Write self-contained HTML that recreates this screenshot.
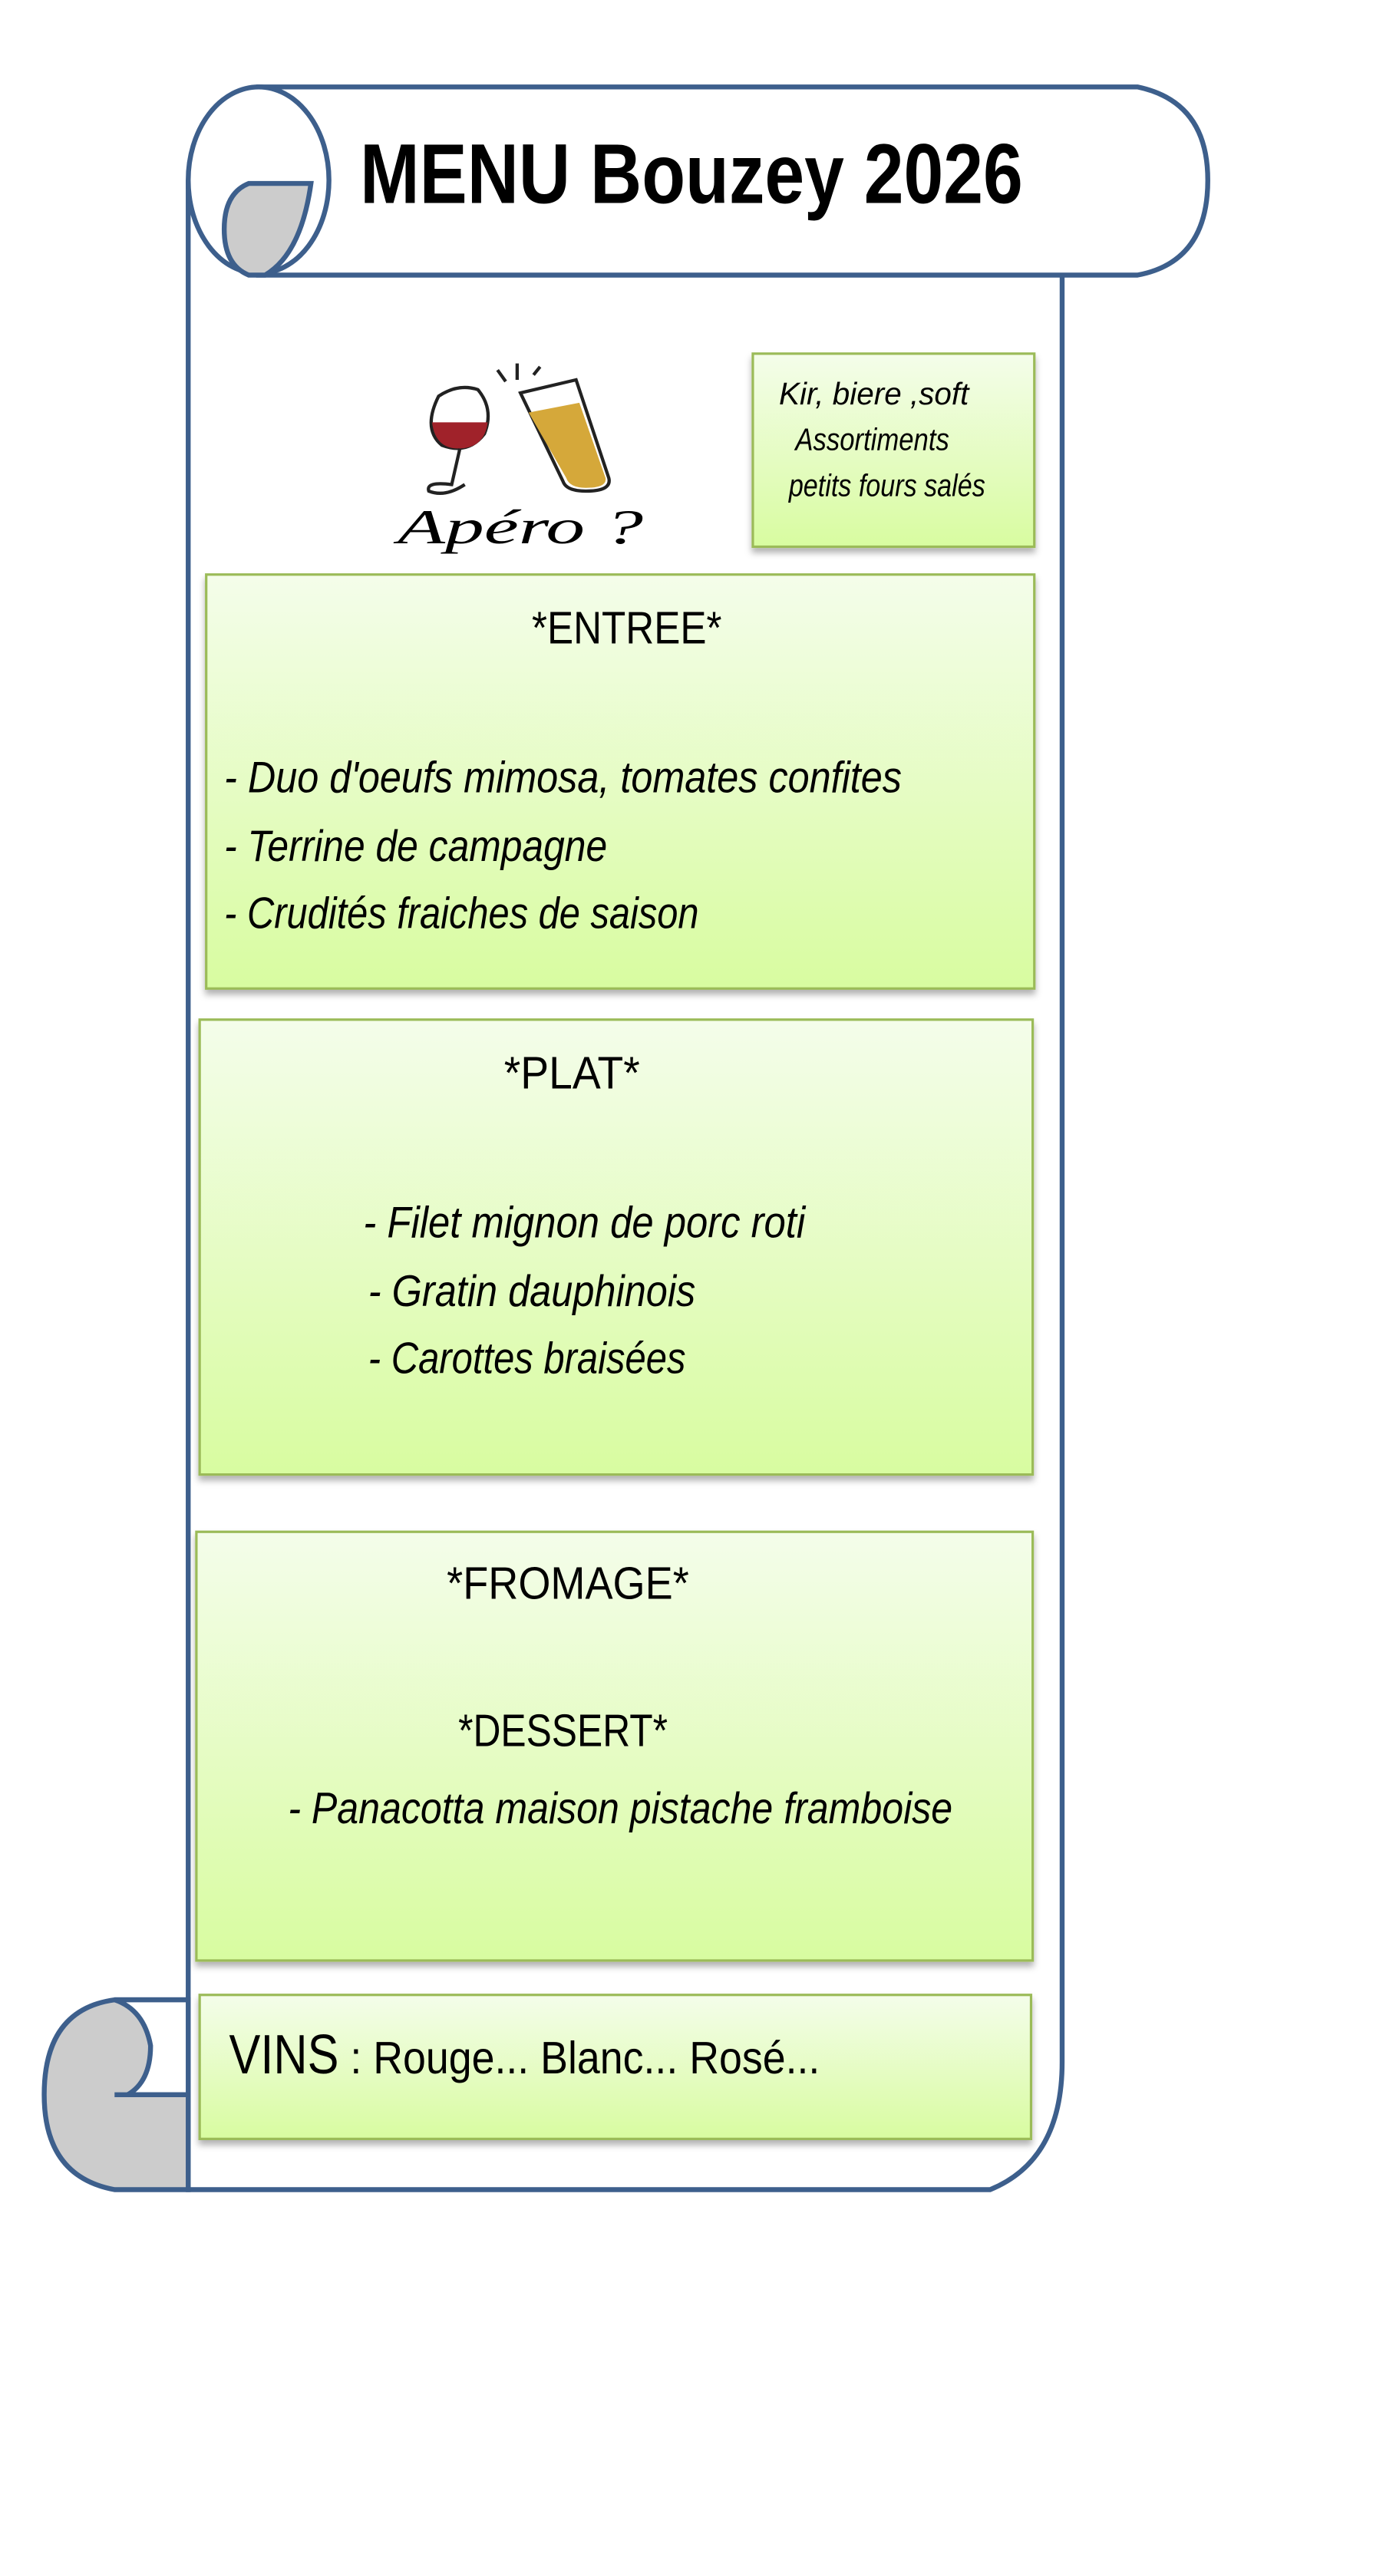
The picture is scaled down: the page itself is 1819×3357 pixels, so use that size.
<!DOCTYPE html>
<html><head><meta charset="utf-8"><style>
html,body{margin:0;padding:0;background:#fff;}
svg{display:block;}
</style></head><body>
<svg width="1819" height="3357" viewBox="0 0 853 1574" xmlns="http://www.w3.org/2000/svg">
<defs>
<linearGradient id="g" x1="0" y1="0" x2="0" y2="1">
<stop offset="0" stop-color="#f4fdea"/><stop offset="1" stop-color="#d8fca0"/>
</linearGradient>
<filter id="sh" x="-5%" y="-5%" width="110%" height="120%">
<feDropShadow dx="0" dy="3" stdDeviation="2" flood-color="#000" flood-opacity="0.3"/>
</filter>
</defs>
<g fill="none" stroke="#3d5f8c" stroke-width="3">
<path d="M115 110 L115 1338 L605 1338 Q649 1320 649 1260 L649 168" fill="#fff"/>
<path d="M158 53 L695 53 Q738 62 738 110 Q738 160 695 168 L158 168 Z" fill="#fff"/>
<ellipse cx="158" cy="110" rx="43" ry="57" fill="#fff"/>
<path d="M190 112 L152 112 Q137 118 137 140 Q137 162 152 168 L162 168 Q184 155 190 112 Z" fill="#ccc"/>
<path d="M70 1222 L115 1222 L115 1338 L70 1338 Q27 1330 27 1280 Q27 1228 70 1222 Z" fill="#ccc"/>
<path d="M70 1222 Q88 1228 92 1250 Q92 1272 78 1280 L115 1280 L115 1222 Z" fill="#fff"/>
<path d="M70 1280 L115 1280" />
</g>
<text x="220" y="124" font-family="Liberation Sans" font-weight="bold" font-size="52" textLength="405" lengthAdjust="spacingAndGlyphs">MENU Bouzey 2026</text>
<g stroke="#222" stroke-width="2" fill="none">
<path d="M268 242 Q258 262 270 272 Q286 278 296 265 Q302 250 292 238 Q280 234 268 242 Z" fill="#fff"/>
<path d="M264 258 Q266 274 280 274 Q296 274 298 258 Z" fill="#a0222a" stroke="none"/>
<path d="M281 274 L276 296 Q260 294 262 300 Q272 304 284 296"/>
<path d="M318 240 L352 232 L372 292 Q374 300 358 300 Q346 300 344 294 Z" fill="#fff"/>
<path d="M323 252 L354 246 L370 292 Q371 298 358 298 Q348 298 346 292 Z" fill="#d5a83a" stroke="none"/>
<path d="M316 222 L316 232 M304 226 L309 233 M326 229 L330 224"/>
</g>
<text x="243" y="332" font-family="Liberation Serif" font-style="italic" font-size="30" textLength="150" lengthAdjust="spacingAndGlyphs">Apéro ?</text>
<g stroke="#9bbb59" stroke-width="1.5" fill="url(#g)" filter="url(#sh)">
<rect x="460" y="216" width="172" height="118"/>
<rect x="126" y="351" width="506" height="253"/>
<rect x="122" y="623" width="509" height="278"/>
<rect x="120" y="936" width="511" height="262"/>
<rect x="122" y="1219" width="508" height="88"/>
</g>
<g font-family="Liberation Sans" font-style="italic" font-size="19" fill="#000">
<text x="476" y="247" textLength="116" lengthAdjust="spacingAndGlyphs">Kir, biere ,soft</text>
<text x="486" y="275" textLength="94" lengthAdjust="spacingAndGlyphs">Assortiments</text>
<text x="482" y="303" textLength="120" lengthAdjust="spacingAndGlyphs">petits fours salés</text>
</g>
<g font-family="Liberation Sans" font-size="28" fill="#000">
<text x="325" y="393" textLength="116" lengthAdjust="spacingAndGlyphs">*ENTREE*</text>
<text x="308" y="665" textLength="83" lengthAdjust="spacingAndGlyphs">*PLAT*</text>
<text x="273" y="977" textLength="148" lengthAdjust="spacingAndGlyphs">*FROMAGE*</text>
<text x="280" y="1067" textLength="128" lengthAdjust="spacingAndGlyphs">*DESSERT*</text>
<text x="140" y="1267" font-size="34" textLength="67" lengthAdjust="spacingAndGlyphs">VINS</text>
<text x="214" y="1267" textLength="287" lengthAdjust="spacingAndGlyphs">: Rouge... Blanc... Rosé...</text>
</g>
<g font-family="Liberation Sans" font-style="italic" font-size="27" fill="#000">
<text x="137" y="484" textLength="414" lengthAdjust="spacingAndGlyphs">- Duo d'oeufs mimosa, tomates confites</text>
<text x="137" y="526" textLength="234" lengthAdjust="spacingAndGlyphs">- Terrine de campagne</text>
<text x="137" y="567" textLength="290" lengthAdjust="spacingAndGlyphs">- Crudités fraiches de saison</text>
<text x="222" y="756" textLength="270" lengthAdjust="spacingAndGlyphs">- Filet mignon de porc roti</text>
<text x="225" y="798" textLength="200" lengthAdjust="spacingAndGlyphs">- Gratin dauphinois</text>
<text x="225" y="839" textLength="194" lengthAdjust="spacingAndGlyphs">- Carottes braisées</text>
<text x="176" y="1114" textLength="406" lengthAdjust="spacingAndGlyphs">- Panacotta maison pistache framboise</text>
</g>
</svg>
</body></html>
